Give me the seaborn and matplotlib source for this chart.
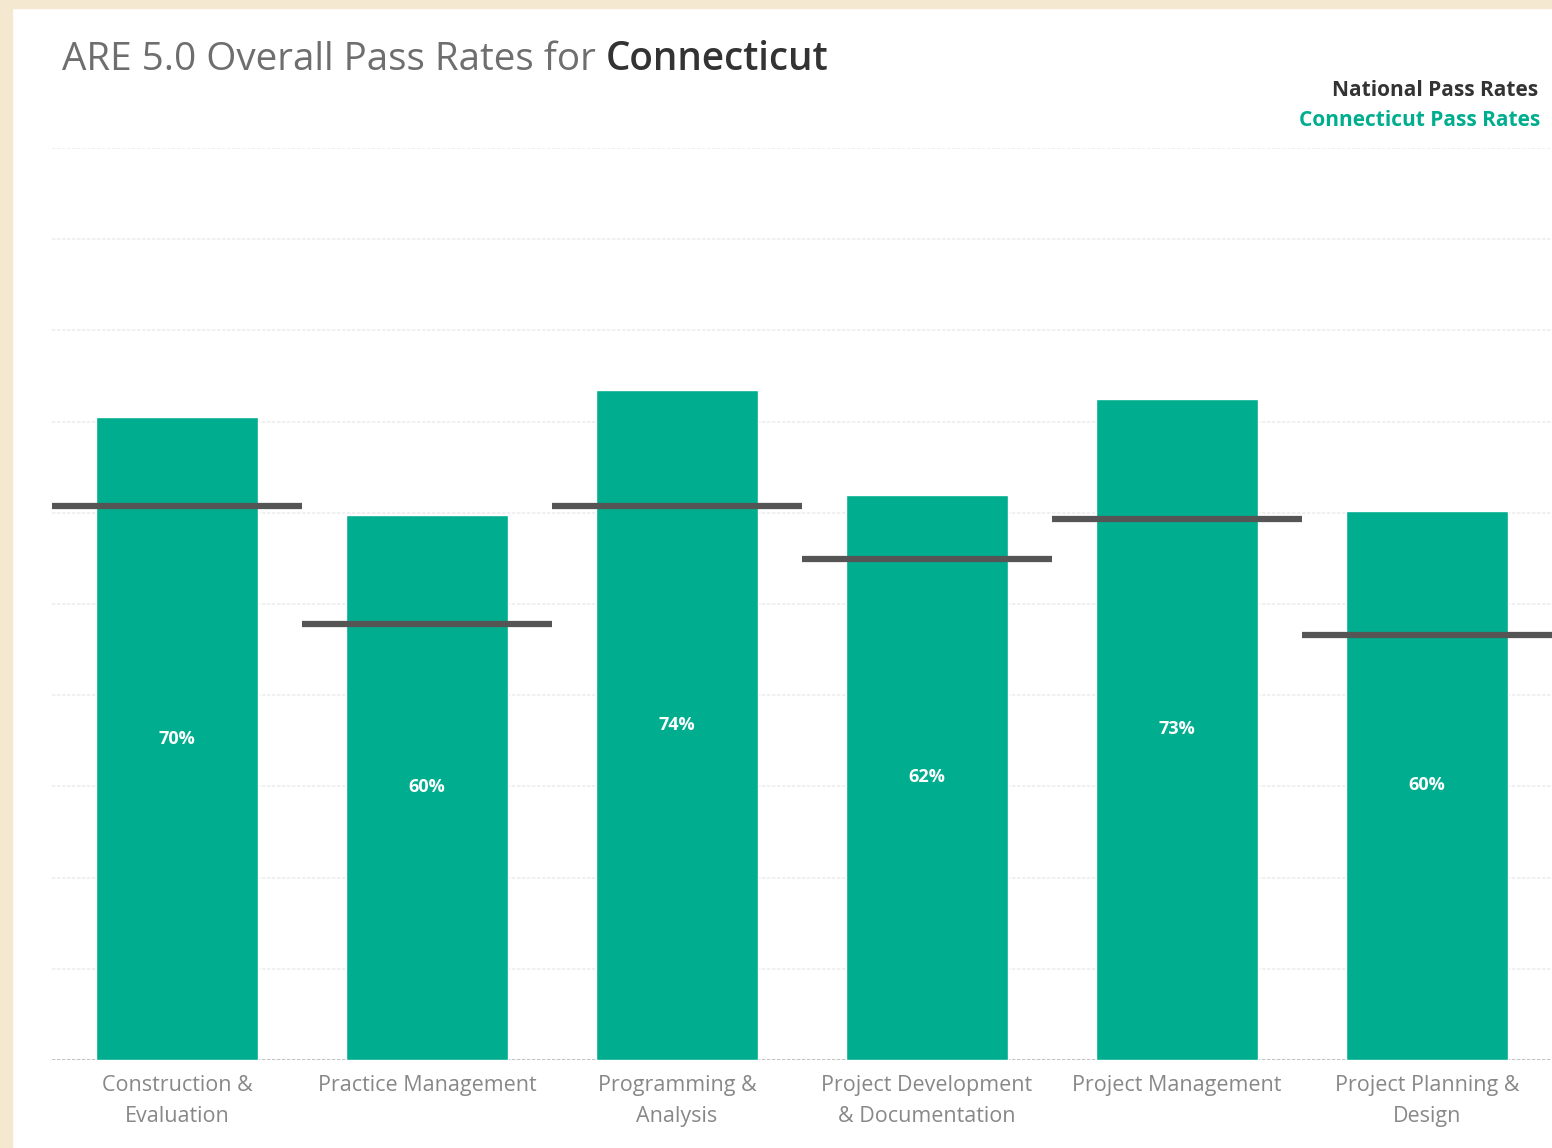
import matplotlib
matplotlib.use("Agg")
import matplotlib.pyplot as plt
import seaborn as sns
import pandas as pd
import numpy as np

categories = ["Construction &\nEvaluation", "Practice Management", "Programming &\nAnalysis",
              "Project Development\n& Documentation", "Project Management", "Project Planning &\nDesign"]
ct_rates = [0.705, 0.598, 0.735, 0.62, 0.725, 0.602]
national_rates = [0.608, 0.478, 0.608, 0.549, 0.593, 0.466]
bar_labels = ["70%", "60%", "74%", "62%", "73%", "60%"]

TEAL = "#00AE8F"
CREAM = "#F4E9D0"

sns.set_theme(style="white")
plt.rcParams['font.family'] = ['Open Sans', 'DejaVu Sans']

W, H = 1552, 1148
fig = plt.figure(figsize=(W / 100, H / 100), dpi=100)
fig.patch.set_facecolor("white")

# cream border (left and top)
fig.add_artist(plt.Rectangle((0, 0), 12 / W, 1, transform=fig.transFigure, color=CREAM, zorder=0))
fig.add_artist(plt.Rectangle((0, 1 - 8 / H), 1, 8 / H, transform=fig.transFigure, color=CREAM, zorder=0))

ax = fig.add_axes([52 / W, 1 - 1060 / H, 1 - 52 / W, (1060 - 148) / H])

df = pd.DataFrame({"Exam": categories, "CT": ct_rates, "National": national_rates})
sns.barplot(data=df, x="Exam", y="CT", color=TEAL, saturation=1, width=0.65, ax=ax, zorder=2)

xs = np.arange(len(categories))
ax.hlines(df["National"], xs - 0.5, xs + 0.5, colors="#555555", linewidth=4.5, zorder=3)

for x, v, lab in zip(xs, ct_rates, bar_labels):
    ax.text(x, v / 2, lab, ha="center", va="center", color="white", fontsize=13, fontweight="bold", zorder=4)

ax.set_xlim(-0.5, len(categories) - 0.5)
ax.set_ylim(0, 1.0)
ax.set_yticks(np.arange(0, 1.01, 0.1))
ax.set_yticklabels([])
ax.tick_params(axis="y", length=0)
ax.tick_params(axis="x", length=0, pad=11)
ax.set_xticks(xs)
ax.set_xticklabels(categories, fontsize=15.5, color="#888888", linespacing=1.6)
ax.grid(axis="y", color="#EDEDED", linewidth=1.2, linestyle=(0, (2, 1)), zorder=0)
ax.axhline(0, color="#BBBBBB", linewidth=1.2, linestyle=(0, (2, 1)), zorder=1)
ax.set_xlabel("")
ax.set_ylabel("")
for s in ax.spines.values():
    s.set_visible(False)

# Title in two parts
t1 = fig.text(62 / W, 1 - 60 / H, "ARE 5.0 Overall Pass Rates for ", fontsize=27.8, color="#6E6E6E", va="center", ha="left")
fig.canvas.draw()
bb = t1.get_window_extent(fig.canvas.get_renderer())
fig.text(bb.x1 / W, 1 - 60 / H, "Connecticut", fontsize=27.8, color="#333333", fontweight="semibold", va="center", ha="left")

# Legend text
fig.text(1538 / W, 1 - 90 / H, "National Pass Rates", fontsize=15, color="#333333", fontweight="bold", ha="right", va="center")
fig.text(1540 / W, 1 - 121 / H, "Connecticut Pass Rates", fontsize=15, color=TEAL, fontweight="bold", ha="right", va="center")

fig.savefig("out.png", dpi=100, facecolor=fig.get_facecolor())
